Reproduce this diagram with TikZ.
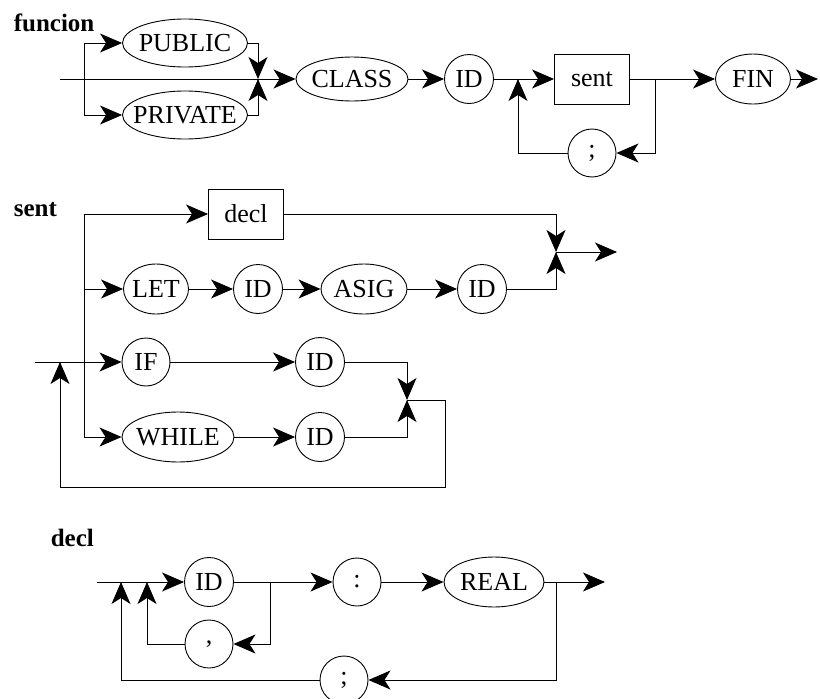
\documentclass[tikz,border=0pt]{standalone}
\usepackage{fontspec}
\setmainfont{Liberation Serif}
\usetikzlibrary{arrows.meta,shapes.geometric}

\tikzset{
	flecha/.style={-{Stealth[length=22pt,width=19pt,inset=6pt]}},
	term/.style={draw,ellipse,inner ysep=0pt,inner xsep=-12pt,minimum height=48pt},
	simb/.style={draw,circle,inner sep=0pt,minimum size=49pt},
	noterm/.style={draw,rectangle,inner sep=0pt,minimum width=75pt,minimum height=50pt},
	titulo/.style={anchor=base west,font=\fontsize{25}{30}\selectfont\bfseries}
}

\begin{document}
\begin{tikzpicture}[x=1pt,y=-1pt,line width=0.9pt,font=\fontsize{26}{30}\selectfont]
			\useasboundingbox (0,0) rectangle (820,699);

			% funcion
			\node[titulo] (T1) at (10,31) {funcion};
			\node[term,minimum width=125pt] (PUB) at (185,43) {PUBLIC};
			\node[term,minimum width=125pt] (PRI) at (185,115) {PRIVATE};
			\node[term,minimum width=112pt,minimum height=44pt] (CLA) at (352,79) {CLASS};
			\node[simb] (ID1) at (469,79) {ID};
			\node[noterm] (SEN) at (592,79) {sent};
			\node[simb,minimum size=48pt] (PC1) at (592,153) {;};
			\node[term,minimum width=75pt,minimum height=50pt] (FIN) at (753,79) {FIN};

			\coordinate (F0) at (60,79);
			\coordinate (F1) at (84,79);
			\coordinate (F2) at (258,79);
			\coordinate (F3) at (518,79);
			\coordinate (F4) at (655,79);
			\coordinate (F5) at (818,79);

			\draw[flecha] (F0)--(CLA);
			\draw[flecha] (F1) |- (PUB.west);
			\draw[flecha] (F1) |- (PRI.west);
			\draw[flecha] (PUB.east) -| (F2);
			\draw[flecha] (PRI.east) -| (F2);
			\draw[flecha] (CLA)--(ID1);
			\draw[flecha] (ID1)--(SEN);
			\draw[flecha] (PC1.west) -| (F3);
			\draw[flecha] (F4) |- (PC1.east);
			\draw[flecha] (SEN)--(FIN);
			\draw[flecha] (FIN)--(F5);

			% sent
			\node[titulo] (T2) at (10,216) {sent};
			\node[noterm] (DEC) at (246,214) {decl};
			\node[term,minimum width=65pt,minimum height=50pt] (LET) at (156,289) {LET};
			\node[simb] (ID2) at (258,289) {ID};
			\node[term,minimum width=86pt,minimum height=50pt] (ASI) at (364,289) {ASIG};
			\node[simb] (ID3) at (482,289) {ID};
			\node[simb,minimum size=48pt] (IF) at (146,362) {IF};
			\node[simb] (ID4) at (320,362) {ID};
			\node[term,minimum width=112pt,minimum height=50pt] (WHI) at (178,437) {WHILE};
			\node[simb] (ID5) at (320,437) {ID};

			\coordinate (S0) at (35,362);
			\coordinate (S1) at (84,362);
			\coordinate (S2) at (556,252);
			\coordinate (S3) at (617,252);
			\coordinate (S4) at (407,400);
			\coordinate (S5) at (445,487);
			\coordinate (S6) at (60,362);

			\draw[flecha] (S0)--(IF);
			\draw[flecha] (S1) |- (DEC.west);
			\draw[flecha] (S1) |- (LET.west);
			\draw[flecha] (S1) |- (WHI.west);
			\draw[flecha] (LET)--(ID2);
			\draw[flecha] (ID2)--(ASI);
			\draw[flecha] (ASI)--(ID3);
			\draw[flecha] (DEC.east) -| (S2);
			\draw[flecha] (ID3.east) -| (S2);
			\draw[flecha] (S2)--(S3);
			\draw[flecha] (IF)--(ID4);
			\draw[flecha] (WHI)--(ID5);
			\draw[flecha] (ID4.east) -| (S4);
			\draw[flecha] (ID5.east) -| (S4);
			\draw[flecha] (S4) -| (S5) -| (S6);

			% decl
			\node[titulo] (T3) at (47,546) {decl};
			\node[simb] (ID6) at (209,582) {ID};
			\node[simb,minimum size=48pt] (COM) at (209,644) {,};
			\node[simb,minimum size=48pt] (DOS) at (357,582) {:};
			\node[term,minimum width=100pt,minimum height=50pt] (REA) at (494,582) {REAL};
			\node[simb,minimum size=48pt] (PC2) at (344,680) {;};

			\coordinate (D0) at (97,582);
			\coordinate (D1) at (121,582);
			\coordinate (D2) at (147,582);
			\coordinate (D3) at (270,582);
			\coordinate (D4) at (556,582);
			\coordinate (D5) at (605,582);

			\draw[flecha] (D0)--(ID6);
			\draw[flecha] (ID6)--(DOS);
			\draw[flecha] (DOS)--(REA);
			\draw[flecha] (REA)--(D5);
			\draw[flecha] (D3) |- (COM.east);
			\draw[flecha] (COM.west) -| (D2);
			\draw[flecha] (D4) |- (PC2.east);
			\draw[flecha] (PC2.west) -| (D1);
		\end{tikzpicture}
\end{document}
